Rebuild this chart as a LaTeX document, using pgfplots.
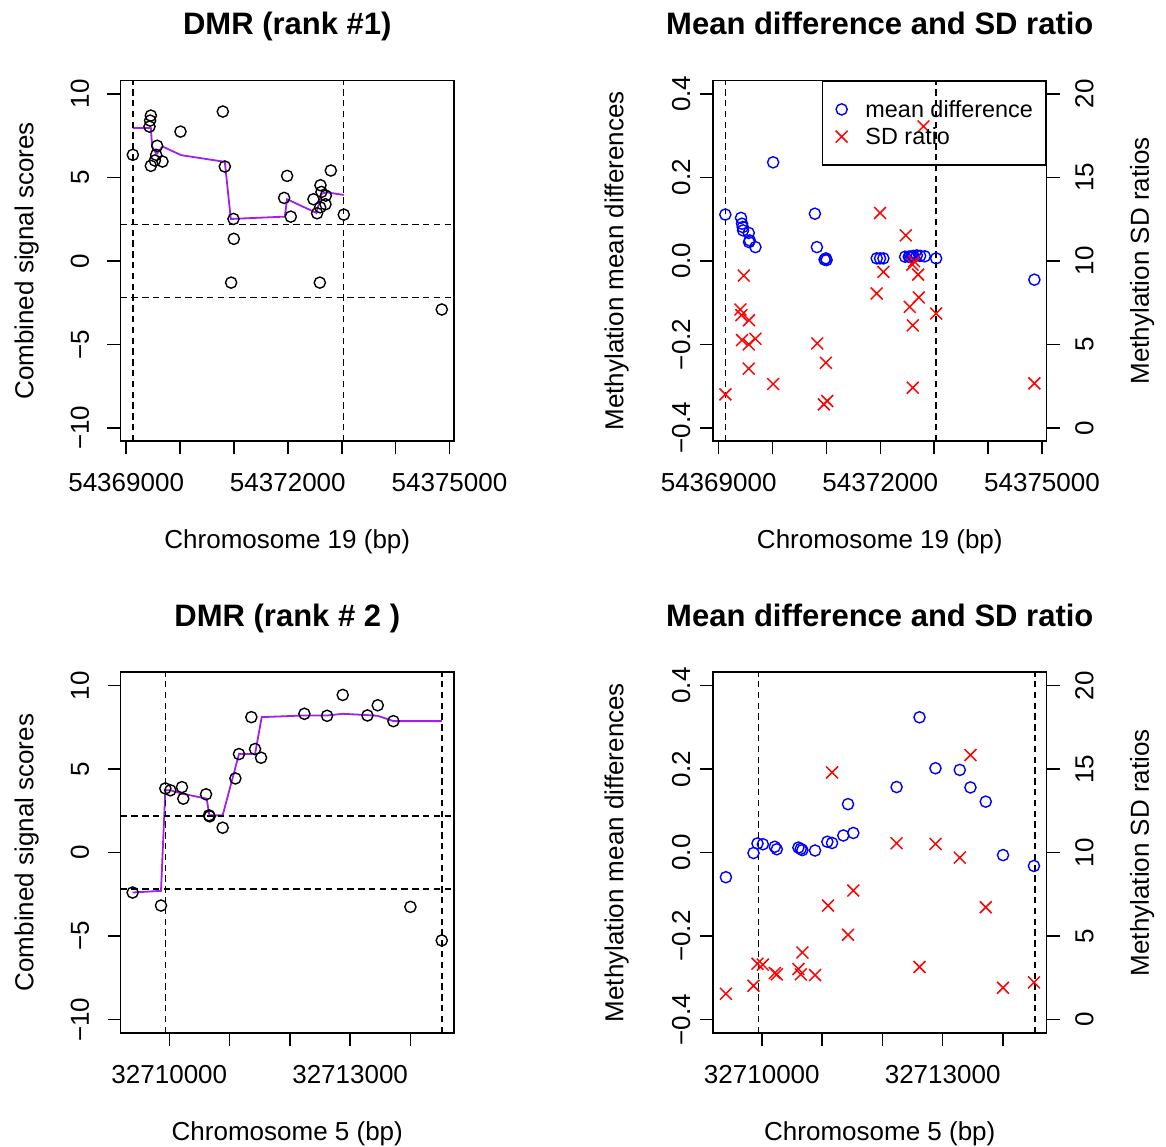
\documentclass[border=0pt]{standalone}
\usepackage{fontspec}
\setmainfont{Liberation Sans}
\usepackage{pgfplots}
\pgfplotsset{compat=1.18}
\definecolor{rpurple}{HTML}{A020F0}
\pgfplotsset{
 rbox/.style={
   scale only axis, width=166.8pt, height=180.4pt, anchor=south west,
   axis line style={line width=0.8pt},
   tick style={line width=0.8pt, black},
   major tick length=6.5pt, tick align=outside,
   xtick pos=left, ytick pos=left,
   tick label style={font=\fontsize{13}{15}\selectfont},
   label style={font=\fontsize{13}{15}\selectfont},
   xticklabel style={anchor=base}, xticklabel shift=18.75pt,
   yticklabel style={rotate=90, anchor=base},
   xlabel style={at={(axis description cs:0.5,0)}, anchor=base, yshift=-53.75pt},
   title style={at={(axis description cs:0.5,1)}, anchor=base, yshift=17pt, font=\bfseries\fontsize{15.5}{18}\selectfont},
 },
 rright/.style={
   hide x axis, axis y line*=right, tick align=outside,
   ytick pos=right, yticklabel pos=right,
   ytick={0,5,10,15,20}, yticklabels={0,5,10,15,20},
   yticklabel shift=16.85pt,
   ylabel={Methylation SD ratios},
   ylabel style={at={([xshift=51.15pt]axis description cs:1,0.5)}, anchor=base},
 },
 rdash/.style={black, line width=0.7pt, dash pattern=on 3.2pt off 2.2pt, forget plot},
 rcirc/.style={only marks, mark=o, mark size=2.8pt, mark options={line width=0.7pt}},
 rcross/.style={only marks, mark=x, red, mark size=4.2pt, mark options={line width=0.75pt}},
}
% x values are base-pair positions relative to 54,369,000 (chr19) and 32,710,000 (chr5)
\pgfplotstableread{
x y
124 6.35
433 8.04
445 8.40
458 8.70
458 5.69
532 6.01
557 6.35
575 6.89
674 5.95
1008 7.74
1794 8.94
1831 5.65
1948 -1.30
1992 2.51
1998 1.32
2932 3.77
2987 5.09
3055 2.65
3476 3.69
3544 2.85
3594 -1.30
3600 3.21
3606 4.53
3624 4.13
3699 3.39
3705 3.91
3798 5.41
4039 2.77
5857 -2.91
}\tlpts
\pgfplotstableread{
x y
124 7.96
458 7.96
482 6.85
563 6.39
674 6.85
1021 6.33
1831 5.93
1942 2.51
2944 2.65
2987 3.69
3532 2.87
3624 4.01
3711 4.11
4039 3.95
}\tlline
\pgfplotstableread{
x y
124 0.111
415 0.103
434 0.089
447 0.081
453 0.073
558 0.067
564 0.045
577 0.049
682 0.033
1011 0.236
1786 0.113
1823 0.033
1965 0.003
1990 0.006
2003 0.002
2933 0.006
2995 0.006
3057 0.006
3460 0.010
3528 0.010
3540 0.010
3571 0.010
3596 0.010
3615 0.012
3677 0.013
3739 0.012
3825 0.011
4036 0.006
5859 -0.045
}\trmean
\pgfplotstableread{
x y
124 2.01
403 7.09
422 6.75
434 5.26
465 9.12
558 5.00
558 3.55
564 6.45
682 5.34
1011 2.63
1829 5.06
1953 1.41
1990 3.90
2015 1.61
2933 8.05
2995 12.87
3057 9.34
3472 11.53
3546 7.25
3596 9.78
3602 6.14
3602 2.41
3627 9.98
3701 9.18
3714 7.81
3801 18.05
4036 6.85
5859 2.67
}\trsd
\pgfplotstableread{
x y
-609 -2.39
-138 -3.17
-66 3.84
17 3.73
210 3.92
232 3.23
609 3.49
658 2.23
669 2.17
885 1.49
1096 4.44
1156 5.90
1361 8.11
1422 6.20
1522 5.68
2241 8.31
2617 8.19
2877 9.44
3287 8.21
3458 8.82
3718 7.87
4000 -3.25
4520 -5.26
}\blpts
\pgfplotstableread{
x y
-609 -2.39
-138 -2.29
-66 3.73
17 3.73
210 3.53
620 3.23
664 2.23
885 2.23
1156 5.90
1422 5.90
1533 8.11
2241 8.21
2617 8.21
2877 8.31
3287 8.23
3458 8.19
3718 7.87
4520 7.87
}\blline
\pgfplotstableread{
x y
-596 -0.059
-138 -0.001
-72 0.022
17 0.020
215 0.014
248 0.008
607 0.012
646 0.009
673 0.006
883 0.005
1087 0.026
1165 0.023
1352 0.041
1430 0.116
1518 0.047
2236 0.157
2616 0.324
2881 0.202
3284 0.198
3461 0.156
3715 0.122
4002 -0.006
4515 -0.032
}\brmean
\pgfplotstableread{
x y
-596 1.55
-138 2.03
-72 3.35
17 3.29
215 2.79
248 2.71
607 3.03
646 2.71
673 4.02
883 2.67
1098 6.83
1165 14.80
1430 5.08
1518 7.73
2236 10.56
2616 3.15
2881 10.52
3284 9.70
3461 15.84
3715 6.73
4002 1.91
4515 2.23
}\brsd
\begin{document}
\begin{tikzpicture}
\useasboundingbox (0,0) rectangle (583pt,573pt);
% ---------- top left ----------
\begin{axis}[rbox, at={(60.25pt,352.35pt)},
  xmin=-105, xmax=6086, ymin=-10.8, ymax=10.8,
  xtick={0,1000,2000,3000,4000,5000,6000},
  xticklabels={54369000,,,54372000,,,54375000},
  ytick={-10,-5,0,5,10}, yticklabels={−10,−5,0,5,10},
  yticklabel shift=9.35pt,
  ylabel={Combined signal scores},
  ylabel style={at={([xshift=-43.6pt]axis description cs:0,0.5)}, anchor=base},
  xlabel={Chromosome 19 (bp)}, title={DMR (rank \#1)}]
\addplot[rcirc, black] table {\tlpts};
\addplot[rpurple, line width=0.9pt] table {\tlline};
\addplot[rdash] coordinates {(124,-10.8) (124,10.8)};
\addplot[rdash] coordinates {(4036,-10.8) (4036,10.8)};
\addplot[rdash] coordinates {(-105,2.17) (6086,2.17)};
\addplot[rdash] coordinates {(-105,-2.19) (6086,-2.19)};
\end{axis}
% ---------- top right ----------
\begin{axis}[rbox, at={(356.5pt,352.35pt)},
  xmin=-105, xmax=6086, ymin=-0.432, ymax=0.432,
  xtick={0,1000,2000,3000,4000,5000,6000},
  xticklabels={54369000,,,54372000,,,54375000},
  ytick={-0.4,-0.2,0,0.2,0.4}, yticklabels={−0.4,−0.2,0.0,0.2,0.4},
  yticklabel shift=5pt,
  ylabel={Methylation mean differences},
  ylabel style={at={([xshift=-44.85pt]axis description cs:0,0.5)}, anchor=base},
  xlabel={Chromosome 19 (bp)}, title={Mean difference and SD ratio}]
\addplot[rcirc, blue] table {\trmean};
\addplot[rdash] coordinates {(124,-0.432) (124,0.432)};
\addplot[rdash] coordinates {(4036,-0.432) (4036,0.432)};
\end{axis}
\begin{axis}[rbox, at={(356.5pt,352.35pt)},
  xmin=-105, xmax=6086, ymin=-0.8, ymax=20.8, rright,
  legend cell align=left,
  legend style={at={(rel axis cs:1,1)}, anchor=north east, draw=black, line width=0.75pt, fill=none,
    inner xsep=6.5pt, inner ysep=7.25pt, font=\fontsize{11.7}{13.65}\selectfont,
    nodes={inner sep=0pt, text height=10.75pt, text depth=2.9pt}, row sep=0pt,
    /tikz/every odd column/.append style={column sep=8.95pt}}]
\addlegendimage{rcirc, blue}
\addlegendentry{mean difference}
\addplot[rcross] table {\trsd};
\addlegendentry{SD ratio}
\end{axis}
% ---------- bottom left ----------
\begin{axis}[rbox, at={(60.25pt,56.5pt)},
  xmin=-810, xmax=4725, ymin=-10.8, ymax=10.8,
  xtick={0,1000,2000,3000,4000},
  xticklabels={32710000,,,32713000,},
  ytick={-10,-5,0,5,10}, yticklabels={−10,−5,0,5,10},
  yticklabel shift=9.35pt,
  ylabel={Combined signal scores},
  ylabel style={at={([xshift=-43.6pt]axis description cs:0,0.5)}, anchor=base},
  xlabel={Chromosome 5 (bp)}, title={DMR (rank \# 2 )}]
\addplot[rcirc, black] table {\blpts};
\addplot[rpurple, line width=0.9pt] table {\blline};
\addplot[rdash] coordinates {(-66,-10.8) (-66,10.8)};
\addplot[rdash] coordinates {(4526,-10.8) (4526,10.8)};
\addplot[rdash] coordinates {(-810,2.19) (4725,2.19)};
\addplot[rdash] coordinates {(-810,-2.19) (4725,-2.19)};
\end{axis}
% ---------- bottom right ----------
\begin{axis}[rbox, at={(356.5pt,56.5pt)},
  xmin=-810, xmax=4725, ymin=-0.432, ymax=0.432,
  xtick={0,1000,2000,3000,4000},
  xticklabels={32710000,,,32713000,},
  ytick={-0.4,-0.2,0,0.2,0.4}, yticklabels={−0.4,−0.2,0.0,0.2,0.4},
  yticklabel shift=5pt,
  ylabel={Methylation mean differences},
  ylabel style={at={([xshift=-44.85pt]axis description cs:0,0.5)}, anchor=base},
  xlabel={Chromosome 5 (bp)}, title={Mean difference and SD ratio}]
\addplot[rcirc, blue] table {\brmean};
\addplot[rdash] coordinates {(-55,-0.432) (-55,0.432)};
\addplot[rdash] coordinates {(4532,-0.432) (4532,0.432)};
\end{axis}
\begin{axis}[rbox, at={(356.5pt,56.5pt)},
  xmin=-810, xmax=4725, ymin=-0.8, ymax=20.8, rright]
\addplot[rcross] table {\brsd};
\end{axis}
\end{tikzpicture}
\end{document}
